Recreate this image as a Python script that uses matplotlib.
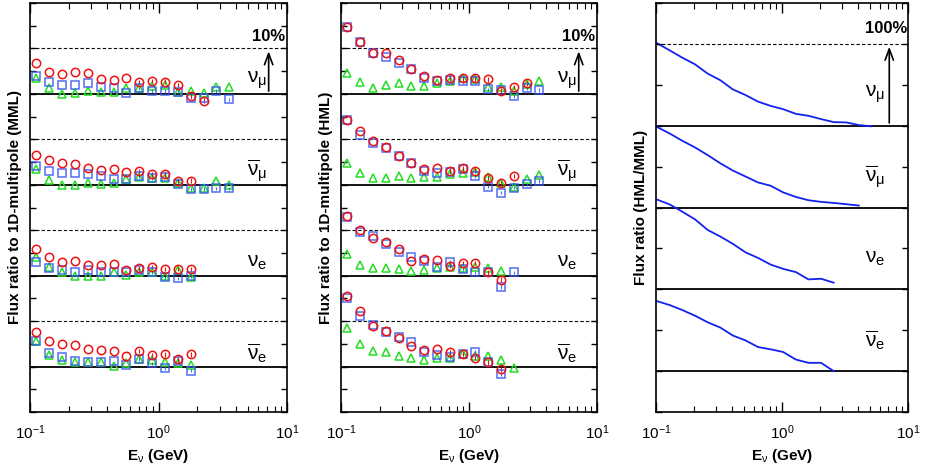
import matplotlib
matplotlib.use("Agg")
import matplotlib.pyplot as plt
from matplotlib.ticker import MultipleLocator, NullFormatter, LogLocator

plt.rcParams['font.family'] = 'Liberation Sans'
plt.rcParams['mathtext.fontset'] = 'custom'
plt.rcParams['mathtext.rm'] = 'Liberation Sans'
plt.rcParams['mathtext.it'] = 'Liberation Sans'

E = [0.112, 0.141, 0.178, 0.224, 0.282, 0.355, 0.447, 0.562, 0.708, 0.891, 1.12, 1.41, 1.78, 2.24, 2.82, 3.55]
E_ratio = [0.102, 0.129, 0.162, 0.204, 0.257, 0.324, 0.407, 0.513, 0.646, 0.813, 1.02, 1.29, 1.62, 2.04, 2.57, 3.24, 4.07, 5.13]

flavors = [r'$\mathrm{\nu_\mu}$', r'$\mathrm{\overline{\nu}_\mu}$', r'$\mathrm{\nu_e}$', r'$\mathrm{\overline{\nu}_e}$']

# Left panel (MML), percent deviation
mml_red = [
    [6.7, 4.9, 4.4, 4.9, 4.7, 3.2, 3.0, 3.4, 2.6, 2.8, 2.7, 2.0, -0.4, -1.5],
    [6.6, 5.5, 4.8, 4.6, 3.7, 3.3, 3.4, 2.8, 3.0, 2.3, 2.3, 0.8, 0.9],
    [5.8, 4.0, 2.9, 3.3, 2.4, 2.4, 2.6, 1.2, 1.7, 1.9, 1.5, 1.5, 1.5],
    [7.6, 5.7, 4.9, 4.7, 3.8, 3.6, 3.4, 2.3, 3.4, 2.5, 2.7, 1.6, 2.7],
]
mml_blue = [
    [3.9, 2.7, 2.0, 1.9, 2.3, 1.5, 1.3, 0.15, 1.2, 0.7, 0.6, 0.4, -0.8, -0.9, 0.7, -1.2],
    [4.1, 3.1, 2.5, 2.5, 2.4, 2.0, 1.3, 1.3, 1.9, 1.4, 1.8, 0.1, -0.9, -0.9, -0.8, -0.8],
    [3.0, 1.7, 1.3, 0.7, 1.2, 0.9, 0.9, 0.9, 1.2, 0.7, -0.4, -0.6, -0.1],
    [5.7, 3.0, 2.0, 1.3, 1.0, 1.0, 1.3, 0.4, 1.6, 0.7, -0.3, 1.2, -0.9],
]
mml_green = [
    [3.4, 1.2, -0.1, 0.1, 0.7, 0.4, 0.4, 1.2, 1.3, 1.8, 2.0, 0.4, 0.7, 0.1, 1.5, 1.5],
    [3.4, 1.0, -0.1, -0.1, 0.4, 0.2, 0.4, 1.2, 1.7, 1.5, 1.5, 0.5, -0.6, -0.8, 0.9, -0.1],
    [4.2, 1.9, 0.9, 0.0, 0.0, -0.1, 0.7, 0.2, 0.7, 0.7, -0.1, 1.2, -0.3],
    [5.6, 2.6, 1.4, 0.9, 0.9, 0.9, 0.2, 0.7, 1.6, 1.4, 0.9, 0.7, 0.4],
]

# Middle panel (HML)
hml_red = [
    [14.7, 11.5, 9.1, 8.9, 7.4, 5.5, 3.9, 3.1, 3.6, 3.4, 3.4, 3.2, 0.7, 1.5, 2.3],
    [14.3, 11.8, 9.7, 8.3, 6.4, 4.9, 3.5, 3.7, 3.1, 3.6, 3.1, 1.6, 0.3, 1.9],
    [13.2, 10.1, 8.3, 7.3, 5.8, 3.3, 3.6, 3.5, 2.2, 2.8, 2.8, 0.7, -0.9],
    [15.6, 12.2, 9.0, 7.8, 6.3, 4.5, 3.6, 3.9, 3.1, 2.8, 1.9, 0.9, -0.6],
]
hml_blue = [
    [14.7, 11.5, 9.1, 8.2, 6.7, 5.4, 3.4, 2.8, 3.1, 2.8, 2.8, 1.0, 0.9, -0.4, 1.2, 0.9],
    [14.3, 11.0, 9.1, 8.0, 6.4, 4.8, 3.1, 2.6, 2.8, 3.4, 2.0, -0.4, -1.7, -0.6, 0.1, 0.8],
    [13.0, 9.6, 8.7, 6.9, 5.1, 4.2, 3.3, 1.8, 3.0, 1.5, 0.7, 0.7, -2.5, 0.7],
    [15.0, 11.1, 9.1, 7.7, 6.4, 5.3, 3.2, 2.5, 2.0, 2.8, 3.3, 0.9, -1.6],
]
hml_green = [
    [4.7, 2.6, 1.4, 1.9, 2.3, 1.8, 1.8, 2.5, 2.8, 3.6, 3.2, 1.5, 1.5, 0.7, 2.1, 2.9],
    [4.7, 2.7, 1.5, 1.5, 2.0, 1.5, 1.8, 1.8, 2.3, 2.5, 2.8, 1.8, 0.3, -0.4, 1.3, 2.2],
    [4.8, 2.4, 1.7, 1.6, 1.4, 1.0, 1.2, 1.7, 1.9, 1.7, 1.9, 1.7, 1.0],
    [8.4, 5.0, 3.4, 3.1, 2.3, 1.9, 1.5, 1.8, 1.9, 2.8, 2.3, 2.3, 1.5, -0.4],
]

# Right panel (HML/MML), percent
ratio = [
    [100.8, 91.9, 83.1, 75.0, 63.7, 55.6, 44.4, 37.5, 29.4, 24.2, 20.2, 14.5, 12.1, 8.1, 4.4, 4.0, 0.8, -0.8],
    [98.4, 90.3, 81.5, 73.4, 64.1, 54.0, 45.2, 37.9, 30.6, 26.6, 18.5, 12.9, 8.9, 6.9, 5.6, 4.0, 2.4],
    [109.7, 103.6, 94.8, 85.5, 72.6, 64.5, 55.6, 45.2, 38.3, 30.2, 25.0, 21.0, 12.1, 12.9, 8.1],
    [85.5, 80.6, 74.6, 67.7, 59.7, 53.2, 43.5, 37.5, 29.4, 26.6, 23.4, 14.1, 10.1, 10.1, 0.0],
]

W, H = 926, 466
fig = plt.figure(figsize=(W / 100, H / 100), dpi=100)

def add_ax(x0, x1, y0=3, y1=412):
    return fig.add_axes([x0 / W, (H - y1) / H, (x1 - x0) / W, (y1 - y0) / H])

def style(ax, ystep):
    ax.set_xscale('log')
    ax.set_xlim(0.1, 10)
    ax.xaxis.set_minor_locator(LogLocator(subs=range(2, 10)))
    ax.xaxis.set_minor_formatter(NullFormatter())
    ax.yaxis.set_major_locator(MultipleLocator(ystep))
    ax.tick_params(which='major', direction='in', top=True, right=True, length=7, width=1, labelsize=11, pad=8)
    ax.tick_params(which='minor', direction='in', top=True, right=True, length=4, width=0.8)
    ax.tick_params(axis='y', length=4, labelleft=False)
    for s in ax.spines.values():
        s.set_linewidth(1.2)
    ax.set_xlabel(r'E$_\mathrm{\nu}$ (GeV)', fontsize=11, fontweight='bold', labelpad=4)

mk = dict(linestyle='none', markerfacecolor='none', markersize=6, markeredgewidth=1.1)

def point_panel(ax, red, blue, green, ylabel):
    offsets = [60, 40, 20, 0]
    ax.set_ylim(-10, 80)
    style(ax, 5)
    for i, off in enumerate(offsets):
        ax.axhline(off, color='black', lw=1.3)
        ax.axhline(off + 10, color='black', lw=0.8, ls=(0, (3, 2)))
        g = green[i]
        ax.plot(E[:len(g)], [v + off for v in g], marker='^', color='#22dd22', **mk)
        b = blue[i]
        ax.errorbar(E[:len(b)], [v + off for v in b], yerr=[0.4 if k >= 8 else 0 for k in range(len(b))],
                    marker='s', color='#3355ee', ecolor='#3355ee', elinewidth=0.8, capsize=0, alpha=0.85, **mk)
        r = red[i]
        ax.errorbar(E[:len(r)], [v + off for v in r], yerr=[0.5 if k >= 8 else 0 for k in range(len(r))],
                    marker='o', color='#ee1111', ecolor='#ee1111', elinewidth=0.8, capsize=0, **mk)
        ax.text(5.8, off + 3.0, flavors[i], fontsize=15, ha='center', va='center')
    ax.annotate('', xy=(7.2, 70), xytext=(7.2, 60),
                arrowprops=dict(arrowstyle='->,head_length=0.8,head_width=0.3', lw=1.2, color='black'))
    ax.text(9.6, 71.0, '10%', fontsize=12, fontweight='bold', ha='right', va='bottom')
    ax.set_ylabel(ylabel, fontsize=11, fontweight='bold', labelpad=6)

ax1 = add_ax(30, 287)
point_panel(ax1, mml_red, mml_blue, mml_green, 'Flux ratio to 1D-multipole (MML)')
ax2 = add_ax(341, 597)
point_panel(ax2, hml_red, hml_blue, hml_green, 'Flux ratio to 1D-multipole (HML)')

ax3 = add_ax(656, 908)
ax3.set_ylim(-50, 450)
style(ax3, 50)
offs = [300, 200, 100, 0]
for i, off in enumerate(offs):
    ax3.axhline(off, color='black', lw=1.3)
    r = ratio[i]
    ax3.plot(E_ratio[:len(r)], [v + off for v in r], color='#1122ee', lw=1.3)
    ax3.text(5.5, off + 38, flavors[i], fontsize=15, ha='center', va='center')
ax3.axhline(400, color='black', lw=0.8, ls=(0, (3, 2)))
ax3.annotate('', xy=(7.1, 400), xytext=(7.1, 300),
             arrowprops=dict(arrowstyle='->,head_length=0.8,head_width=0.3', lw=1.2, color='black'))
ax3.text(9.9, 410, '100%', fontsize=12, fontweight='bold', ha='right', va='bottom')
ax3.set_ylabel('Flux ratio (HML/MML)', fontsize=11, fontweight='bold', labelpad=6)

fig.savefig('out.png', dpi=100)
